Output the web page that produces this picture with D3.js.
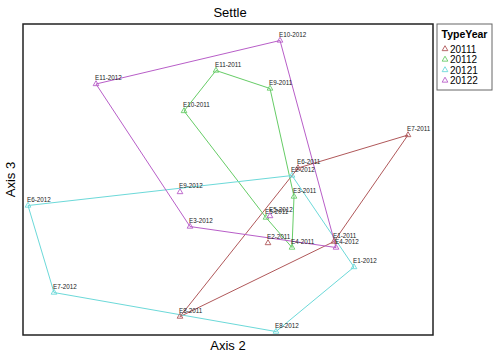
<!DOCTYPE html>
<html>
<head>
<meta charset="utf-8">
<script src="https://cdn.jsdelivr.net/npm/d3@7"></script>
<style>
  body { margin: 0; background: #fff; }
  svg { display: block; font-family: "Liberation Sans", Arial, sans-serif; }
</style>
</head>
<body>
<div id="chart"></div>
<script>
/* Settle ordination - hulls by TypeYear */

const width = 493, height = 359,
    margin = ({ top: 24, right: 60, bottom: 24, left: 23 });

// groups and their colours
const groups = ["20111", "20112", "20121", "20122"];
const colors = ["#b0585a", "#66cc66", "#6cd9d9", "#b85ec8"];

// site labels and scores (Axis 2, Axis 3), one array per group
const sites20111 = ["E1-2011", "E2-2011", "E6-2011", "E7-2011", "E8-2011"];
const ax2_20111 = [0.53, 0.20, 0.35, 0.90, -0.24];
const ax3_20111 = [-0.41, -0.42, 0.08, 0.30, -0.91];

const sites20112 = ["E3-2011", "E4-2011", "E5-2011", "E9-2011", "E10-2011", "E11-2011"];
const ax2_20112 = [0.33, 0.32, 0.19, 0.21, -0.22, -0.06];
const ax3_20112 = [-0.11, -0.45, -0.25, 0.61, 0.46, 0.73];

const sites20121 = ["E1-2012", "E2-2012", "E6-2012", "E7-2012", "E8-2012"];
const ax2_20121 = [0.63, 0.32, -1.00, -0.87, 0.24];
const ax3_20121 = [-0.58, 0.03, -0.17, -0.75, -1.01];

const sites20122 = ["E3-2012", "E4-2012", "E5-2012", "E9-2012", "E10-2012", "E11-2012"];
const ax2_20122 = [-0.19, 0.54, 0.21, -0.24, 0.26, -0.66];
const ax3_20122 = [-0.31, -0.45, -0.24, -0.08, 0.93, 0.64];

const series = [
    { group: "20111", sites: sites20111, x: ax2_20111, y: ax3_20111 },
    { group: "20112", sites: sites20112, x: ax2_20112, y: ax3_20112 },
    { group: "20121", sites: sites20121, x: ax2_20121, y: ax3_20121 },
    { group: "20122", sites: sites20122, x: ax2_20122, y: ax3_20122 }
];

const svg = d3.select("#chart")
    .append("svg")
    .attr("width", width)
    .attr("height", height);

let x = d3.scaleLinear()
    .domain([-1.025, 1.025])
    .range([margin.left, width - margin.right]);

let y = d3.scaleLinear()
    .domain([-1.033, 1.04])
    .range([height - margin.bottom, margin.top]);

let color = d3.scaleOrdinal().domain(groups).range(colors);

let tri = d3.symbol().type(d3.symbolTriangle).size(14);

// hulls
for (let s of series) {
    let pts = s.sites.map((name, i) => [x(s.x[i]), y(s.y[i])]);
    let hull = d3.polygonHull(pts);
    svg.append("path")
        .attr("d", "M" + hull.join("L") + "Z")
        .attr("fill", "none")
        .attr("stroke", color(s.group))
        .attr("stroke-width", 1);
}

// points + labels
for (let s of series) {
    let g = svg.append("g");
    s.sites.forEach((name, i) => {
        g.append("path")
            .attr("d", tri)
            .attr("transform", `translate(${x(s.x[i])},${y(s.y[i])})`)
            .attr("fill", "none")
            .attr("stroke", color(s.group))
            .attr("stroke-width", 0.9);
        g.append("text")
            .attr("x", x(s.x[i]) - 1)
            .attr("y", y(s.y[i]) - 4)
            .attr("font-size", 6.3)
            .attr("fill", "#222")
            .text(name);
    });
}

// plot frame
svg.append("rect")
    .attr("x", x.range()[0])
    .attr("y", y.range()[1])
    .attr("width", x.range()[1] - x.range()[0])
    .attr("height", y.range()[0] - y.range()[1])
    .attr("fill", "none")
    .attr("stroke", "#222")
    .attr("stroke-width", 1.5);

// title + axis labels
svg.append("text")
    .attr("x", 230)
    .attr("y", 17)
    .attr("text-anchor", "middle")
    .attr("font-size", 13)
    .text("Settle");

svg.append("text")
    .attr("x", (x.range()[0] + x.range()[1]) / 2)
    .attr("y", 350)
    .attr("text-anchor", "middle")
    .attr("font-size", 13)
    .text("Axis 2");

svg.append("text")
    .attr("transform", `translate(15,${(y.range()[0] + y.range()[1]) / 2}) rotate(-90)`)
    .attr("text-anchor", "middle")
    .attr("font-size", 13)
    .text("Axis 3");

// legend
const lg = svg.append("g").attr("transform", "translate(437,24)");
lg.append("rect")
    .attr("width", 55)
    .attr("height", 66)
    .attr("fill", "#fff")
    .attr("stroke", "#666")
    .attr("stroke-width", 1);
lg.append("text")
    .attr("x", 27.5)
    .attr("y", 14)
    .attr("text-anchor", "middle")
    .attr("font-size", 10.5)
    .attr("font-weight", "bold")
    .text("TypeYear");
groups.forEach((gname, i) => {
    let yy = 25 + i * 10.5;
    lg.append("path")
        .attr("d", tri)
        .attr("transform", `translate(8,${yy})`)
        .attr("fill", "none")
        .attr("stroke", color(gname))
        .attr("stroke-width", 0.9);
    lg.append("text")
        .attr("x", 13)
        .attr("y", yy + 3.5)
        .attr("font-size", 10)
        .text(gname);
});
</script>
</body>
</html>
